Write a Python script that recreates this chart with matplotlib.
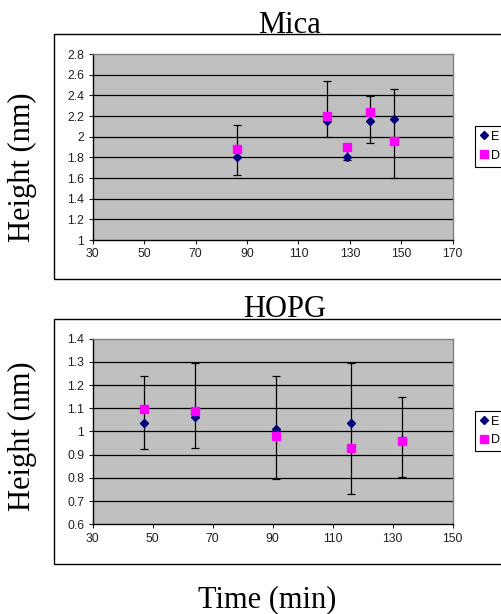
import numpy as np
import matplotlib
matplotlib.use("Agg")
import matplotlib.pyplot as plt
from matplotlib.patches import Rectangle

# Mica data
mica_t = [86, 121, 129, 138, 147]
mica_E = [1.80, 2.15, 1.80, 2.15, 2.17]
mica_D = [1.88, 2.20, 1.90, 2.235, 1.96]
mica_lo = [1.625, 2.00, 1.77, 1.94, 1.60]
mica_hi = [2.11, 2.54, 1.925, 2.395, 2.465]

# HOPG data
hopg_t = [47, 64, 91, 116, 133]
hopg_E = [1.035, 1.064, 1.009, 1.035, 0.965]
hopg_D = [1.098, 1.090, 0.982, 0.929, 0.960]
hopg_lo = [0.923, 0.928, 0.795, 0.729, 0.803]
hopg_hi = [1.238, 1.297, 1.238, 1.297, 1.150]

mica_xticks = [30, 50, 70, 90, 110, 130, 150, 170]
mica_yticks = [1, 1.2, 1.4, 1.6, 1.8, 2, 2.2, 2.4, 2.6, 2.8]
hopg_xticks = [30, 50, 70, 90, 110, 130, 150]
hopg_yticks = [0.6, 0.7, 0.8, 0.9, 1, 1.1, 1.2, 1.3, 1.4]

serif = "Liberation Serif"
sans = "Liberation Sans"

fig = plt.figure(figsize=(5.01, 6.14), dpi=100)

# white chart boxes with black border, behind the axes
for (y0, y1) in [(0.546, 0.945), (0.0814, 0.481)]:
    fig.patches.append(Rectangle((0.1078, y0), 1.0, y1 - y0, transform=fig.transFigure,
                                 facecolor="white", edgecolor="black", lw=1.0, zorder=-5))

def panel(rect, t, E, D, lo, hi, xticks, yticks, leg_y):
    ax = fig.add_axes(rect)
    ax.set_facecolor("#C0C0C0")
    for y in yticks[1:-1]:
        ax.axhline(y, color="black", lw=0.9, zorder=1)
    E = np.array(E)
    yerr = [E - np.array(lo), np.array(hi) - E]
    ax.errorbar(t, E, yerr=yerr, fmt="none", ecolor="black", elinewidth=0.9,
                capsize=2.8, capthick=0.9, zorder=2)
    hE, = ax.plot(t, E, "D", color="#000080", ms=4, ls="none", zorder=3)
    hD, = ax.plot(t, D, "s", color="#FF00FF", ms=5.5, ls="none", zorder=4)
    ax.set_xlim(xticks[0], xticks[-1])
    ax.set_ylim(yticks[0], yticks[-1])
    ax.set_xticks(xticks)
    ax.set_yticks(yticks)
    ax.set_xticklabels([str(v) for v in xticks])
    ax.set_yticklabels([("%g" % v) for v in yticks])
    for sp in ax.spines.values():
        sp.set_color("#808080")
        sp.set_linewidth(1.0)
    ax.spines["left"].set_color("black")
    ax.spines["bottom"].set_color("black")
    ax.tick_params(direction="out", length=3, width=0.8, pad=3, labelsize=8.7,
                   colors="#202020")
    for lab in ax.get_xticklabels() + ax.get_yticklabels():
        lab.set_fontfamily(sans)
    leg = fig.legend(handles=[hE, hD], labels=["E", "D"], loc="center left",
                     bbox_to_anchor=(0.948, leg_y), bbox_transform=fig.transFigure,
                     borderaxespad=0, frameon=True, fancybox=False, edgecolor="black",
                     framealpha=1, prop={"family": sans, "size": 9}, handlelength=0.6,
                     handletextpad=0.3, borderpad=0.4, labelspacing=0.55)
    leg.get_frame().set_linewidth(0.8)
    return ax

panel([0.185, 0.609, 0.7186, 0.303], mica_t, mica_E, mica_D, mica_lo, mica_hi,
      mica_xticks, mica_yticks, 0.762)
panel([0.185, 0.1461, 0.7186, 0.3023], hopg_t, hopg_E, hopg_D, hopg_lo, hopg_hi,
      hopg_xticks, hopg_yticks, 0.298)

fig.text(0.577, 0.946, "Mica", family=serif, size=22, ha="center", va="baseline")
fig.text(0.569, 0.483, "HOPG", family=serif, size=22, ha="center", va="baseline")
fig.text(0.534, 0.0114, "Time (min)", family=serif, size=22, ha="center", va="baseline")
fig.text(0.045, 0.727, "Height (nm)", family=serif, size=22, ha="center", va="center",
         rotation=90)
fig.text(0.045, 0.289, "Height (nm)", family=serif, size=22, ha="center", va="center",
         rotation=90)

fig.savefig("out.png", dpi=100)
